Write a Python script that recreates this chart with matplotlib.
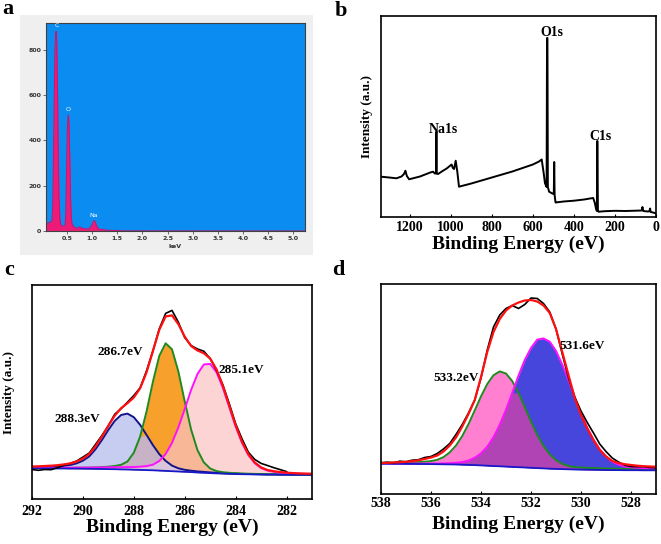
import numpy as np
import matplotlib
matplotlib.use('Agg')
import matplotlib.pyplot as plt
from matplotlib.patches import Rectangle

plt.rcParams['font.family'] = ['Liberation Serif', 'DejaVu Serif']

# ---------------- Panel a : EDS spectrum ----------------
eds_kev = [0.08, 0.12, 0.16, 0.20, 0.215, 0.23, 0.245, 0.26, 0.275, 0.285, 0.295, 0.31,
           0.325, 0.34, 0.36, 0.38, 0.42, 0.46, 0.475, 0.49, 0.505, 0.52, 0.53, 0.54,
           0.555, 0.57, 0.585, 0.60, 0.65, 0.70, 0.75, 0.80, 0.85, 0.90, 0.95, 0.99,
           1.02, 1.04, 1.06, 1.09, 1.12, 1.20, 1.30, 1.40, 1.50, 1.55, 1.70, 5.23]
eds_counts = [30, 35, 38, 45, 100, 300, 560, 800, 870, 881, 850, 650,
              380, 150, 50, 25, 22, 25, 70, 250, 430, 505, 512, 470,
              330, 150, 60, 30, 15, 12, 18, 12, 10, 9, 12, 25,
              40, 47, 40, 22, 10, 6, 4, 2, 3, 1, 0.5, 0]
eds_labels = ['C', 'O', 'Na']
eds_label_kev = [0.29, 0.53, 1.04]
eds_label_cnt = [905, 535, 68]
eds_xticks = [0.5, 1.0, 1.5, 2.0, 2.5, 3.0, 3.5, 4.0, 4.5, 5.0]
eds_yticks = [0, 200, 400, 600, 800]

# ---------------- Panel b : XPS survey ----------------
survey_be = [1340, 1300, 1265, 1240, 1228, 1221, 1214, 1203, 1150, 1100, 1086, 1078, 1072,
             1070, 1068, 1062, 1040, 1020, 1005, 996, 990, 984, 976, 968, 960, 900, 800,
             700, 600, 570, 557, 548, 541, 533, 531, 529, 527, 521, 505, 498, 496, 494,
             490, 489, 450, 400, 350, 322, 306, 298, 292, 288, 286.5, 285.5, 283, 280,
             250, 200, 150, 100, 70, 66, 62, 40, 32, 29, 26, 15, 5, 1]
survey_int = [40.3, 39.5, 38.7, 40.5, 43, 46.3, 41, 37.7, 40.5, 44.5, 45.3, 43.5, 43.5,
              85.3, 43.5, 43, 46, 48.5, 51, 52.5, 49, 48, 56.3, 45, 30.3, 33.5, 39.5,
              45.5, 52.5, 55.5, 57.5, 45, 33.7, 30, 179, 179, 30, 25.3, 23.5, 23, 55, 22,
              15, 14.5, 15.5, 16.3, 17.5, 18.5, 19, 14, 8, 6, 76, 76, 6, 5.3,
              5.8, 6.2, 6.0, 6.3, 6.5, 10.0, 6.0, 5.5, 5.8, 8.5, 5.0, 4.5, 4.0, 3.5]
survey_labels = ['Na1s', 'O1s', 'C1s']
survey_label_be = [1037, 509, 270]
survey_label_int = [87.7, 184.7, 80.3]
survey_xticks = [1200, 1000, 800, 600, 400, 200, 0]

# ---------------- Panel c : C 1s ----------------
c_be = np.linspace(292, 281, 45)
c_base = [30.7, 30.7, 30.6, 30.6, 30.5, 30.5, 30.4, 30.4, 30.3, 30.2, 30.1, 30.0, 29.9, 29.8, 29.6,
          29.5, 29.3, 29.1, 28.9, 28.7, 28.4, 28.1, 27.8, 27.5, 27.2, 26.9, 26.5, 26.2, 25.9, 25.6,
          25.4, 25.2, 25.0, 24.8, 24.7, 24.6, 24.5, 24.4, 24.4, 24.3, 24.3, 24.2, 24.2, 24.2, 24.2]
c_288 = [1.0, 1.2, 1.4, 1.7, 2.1, 2.7, 3.6, 5.2, 8.0, 12.4, 19.8, 29.1, 39.2, 48.3, 54.4,
         55.9, 52.5, 45.0, 35.2, 25.2, 16.5, 10.0, 5.6, 3.2, 2.0, 1.4, 1.1, 0.9, 0.7, 0.6,
         0.5, 0.4, 0.4, 0.3, 0.3, 0.3, 0.2, 0.2, 0.2, 0.2, 0.2, 0.1, 0.1, 0.1, 0.1]
c_286 = [0.3, 0.3, 0.4, 0.4, 0.5, 0.6, 0.7, 0.8, 1.0, 1.2, 1.5, 1.9, 2.4, 3.2, 4.6,
         8.0, 17.0, 33.5, 58.6, 88.5, 114.7, 127.6, 121.9, 100.0, 70.4, 42.6, 22.4, 10.4, 4.6, 2.3,
         1.4, 1.0, 0.8, 0.7, 0.6, 0.5, 0.5, 0.4, 0.4, 0.3, 0.3, 0.3, 0.2, 0.2, 0.2]
c_285 = [0.5, 0.5, 0.6, 0.6, 0.7, 0.8, 0.9, 1.0, 1.1, 1.2, 1.4, 1.6, 1.8, 2.0, 2.2,
         2.4, 2.7, 3.2, 4.0, 5.6, 9.6, 16.9, 28.3, 44.1, 62.8, 82.1, 98.5, 108.3, 109.2, 101.1,
         85.7, 66.7, 47.6, 31.4, 19.2, 11.2, 6.4, 4.0, 2.8, 2.1, 1.6, 1.3, 1.1, 0.9, 0.8]
c_raw_resid = [-3, -4, -3.5, -4, -2.5, -1, 0, 0.5, 1.5, 1, 2, 1, 0, 1.5, -0.5, 1, 2, 0.5, 1.5, 0,
               1, 3, 5, 2, -1, 0.5, 1.5, 2, 0, -1, 1, 2, 1.5, 3, 2, 3, 4, 4.5, 3.5, 2.5, 1]
c_labels = ['288.3eV', '286.7eV', '285.1eV']
c_label_be = [290.22, 288.55, 283.78]
c_label_int = [80.3, 147, 128.7]
c_xticks = [292, 290, 288, 286, 284, 282]

# ---------------- Panel d : O 1s ----------------
d_be = np.linspace(538, 527, 45)
d_base = [30.3, 30.3, 30.2, 30.2, 30.1, 30.1, 30.0, 30.0, 29.9, 29.8, 29.7, 29.6, 29.5, 29.3, 29.1,
          28.9, 28.6, 28.3, 28.0, 27.7, 27.4, 27.1, 26.8, 26.5, 26.2, 25.9, 25.6, 25.3, 25.1, 24.9,
          24.7, 24.5, 24.4, 24.3, 24.2, 24.1, 24.0, 23.9, 23.9, 23.8, 23.8, 23.8, 23.7, 23.7, 23.7]
d_533 = [1.0, 1.1, 1.2, 1.3, 1.4, 1.6, 1.9, 2.3, 3.0, 4.4, 7.2, 12.0, 19.0, 28.7, 40.8,
         54.7, 69.0, 81.7, 90.8, 94.9, 93.1, 85.8, 74.4, 60.5, 46.2, 33.2, 22.5, 14.4, 8.7, 5.2,
         3.3, 2.4, 2.0, 1.8, 1.7, 1.6, 1.5, 1.4, 1.4, 1.3, 1.3, 1.2, 1.2, 1.1, 1.1]
d_531 = [0.3, 0.3, 0.3, 0.4, 0.4, 0.4, 0.5, 0.5, 0.6, 0.7, 0.9, 1.2, 1.7, 2.6, 4.4,
         7.3, 12.1, 19.0, 28.8, 41.6, 56.9, 74.1, 91.6, 107.5, 119.8, 128.5, 130.0, 127.0, 118.0, 104.5,
         89.0, 72.0, 56.0, 42.0, 30.0, 20.5, 13.5, 8.5, 5.5, 3.8, 2.9, 2.4, 2.1, 1.9, 1.8]
d_envelope = [31.0, 31.2, 31.5, 31.8, 32.2, 32.8, 33.8, 35.0, 36.5, 38.5, 42.5, 48.5, 56.5, 67.5, 80.0,
              94.0, 117.0, 142.0, 162.0, 175.0, 183.5, 188.5, 191.5, 193.5, 194.0, 192.5, 188.5, 181.0,
              165.0, 142.0, 119.0, 96.0, 79.0, 65.5, 54.0, 44.0, 37.5, 33.0, 31.0, 29.8, 29.0, 28.3,
              27.8, 27.5, 27.3]
d_raw_resid = [0, 0.5, -0.5, 1, 0, 1, 0.5, 1.5, 1, 2, 2.5, 2, 3, 2, 1, 0, -1, 2, 5, 4, 2, 0, -6, -4,
               2, 3, 2, 1, 0, -2, -3, 1, 4, 6, 7, 6, 5, 3, 1, -1, -1.5, -1, -0.5, -1, -1]
d_labels = ['533.2eV', '531.6eV']
d_label_be = [534.98, 529.96]
d_label_int = [116, 148]
d_xticks = [538, 536, 534, 532, 530, 528]

# ================= figure =================
W, H = 661, 544
fig = plt.figure(figsize=(W / 100, H / 100), dpi=100)


def ax_at(x0, y0, x1, y1):
    return fig.add_axes([x0 / W, 1 - y1 / H, (x1 - x0) / W, (y1 - y0) / H])


def bold_ticks(ax, size):
    for t in ax.get_xticklabels() + ax.get_yticklabels():
        t.set_fontweight('bold')
        t.set_fontsize(size)


# ---- panel a ----
fig.patches.append(Rectangle((20 / W, 1 - 255 / H), 293 / W, 240 / H, transform=fig.transFigure,
                             facecolor='#efefef', edgecolor='none', zorder=-5))
axa = ax_at(46, 23, 305, 231)
axa.set_zorder(2)
axa.set_facecolor('#0a8cf0')
axa.fill_between(eds_kev, eds_counts, 0, color='#ee1a78', lw=0)
axa.plot(eds_kev, eds_counts, color='#d0106a', lw=0.7)
axa.set_xlim(0.083, 5.23)
axa.set_ylim(0, 918)
axa.set_xticks(eds_xticks)
axa.set_xticklabels([f'{v:.1f}' for v in eds_xticks])
axa.set_yticks(eds_yticks)
axa.tick_params(labelsize=4.5, colors='#333333', length=2, width=0.5, pad=1.5)
for lab in axa.get_xticklabels() + axa.get_yticklabels():
    lab.set_family('DejaVu Sans')
    lab.set_fontweight('bold')
for s in axa.spines.values():
    s.set_color('#404040')
    s.set_linewidth(0.8)
axa.set_xlabel('keV', fontsize=4.5, color='#333333', labelpad=2, family='DejaVu Sans', fontweight='bold')
for lab, x, y in zip(eds_labels, eds_label_kev, eds_label_cnt):
    axa.text(x, y, lab, color='white', fontsize=4.5, ha='center', va='center', family='DejaVu Sans')

# ---- panel b ----
axb = ax_at(381, 16, 656, 217)
axb.plot(survey_be, survey_int, color='black', lw=1.4)
axb.set_xlim(1340, 0)
axb.set_ylim(0, 201)
axb.set_xticks(survey_xticks)
axb.set_yticks([])
axb.tick_params(axis='x', direction='in', length=2, pad=3)
bold_ticks(axb, 10)
axb.set_xlabel('Binding Energy (eV)', fontsize=14, fontweight='bold', labelpad=1)
axb.set_ylabel('Intensity (a.u.)', fontsize=9.5, fontweight='bold', labelpad=6)
for lab, x, y in zip(survey_labels, survey_label_be, survey_label_int):
    axb.text(x, y, lab, fontsize=10, fontweight='bold', ha='center', va='center')
for s in axb.spines.values():
    s.set_linewidth(1.2)

# ---- panel c ----
axc = ax_at(32, 285, 312, 499)
cb = np.array(c_base)
c1 = np.array(c_288)
c2 = np.array(c_286)
c3 = np.array(c_285)
axc.fill_between(c_be, cb, cb + c1, color='#c6cdf0', lw=0)
axc.fill_between(c_be, cb, cb + c2, color='#f7a02c', lw=0)
axc.fill_between(c_be, cb, cb + c3, color='#fcd4d4', lw=0)
axc.fill_between(c_be, cb, cb + np.minimum(c1, c2), color='#c8b2c6', lw=0)
axc.fill_between(c_be, cb, cb + np.minimum(c2, c3), color='#f8b898', lw=0)
axc.fill_between(c_be, cb, cb + np.minimum(c1, c3), color='#d9c6dc', lw=0)
axc.plot(c_be, cb + c1, color='#141488', lw=1.4)
axc.plot(c_be, cb + c2, color='#1f8a1f', lw=1.4)
axc.plot(c_be, cb + c3, color='#ff10ff', lw=1.4)
axc.plot(c_be, cb, color='#1818c8', lw=1.3)
c_env = cb + c1 + c2 + c3
n = len(c_raw_resid)
axc.plot(c_be[:n], c_env[:n] + np.array(c_raw_resid), color='black', lw=1.2)
axc.plot(c_be, c_env, color='#ff1010', lw=1.6)
axc.set_xlim(292, 281)
axc.set_ylim(0, 214)
axc.set_xticks(c_xticks)
axc.set_yticks([])
axc.tick_params(axis='x', direction='in', length=2, pad=4)
bold_ticks(axc, 10)
axc.set_xlabel('Binding Energy (eV)', fontsize=14, fontweight='bold', labelpad=1)
axc.set_ylabel('Intensity (a.u.)', fontsize=9.5, fontweight='bold', labelpad=12)
for lab, x, y in zip(c_labels, c_label_be, c_label_int):
    axc.text(x, y, lab, fontsize=9.5, fontweight='bold', ha='center', va='center')
for s in axc.spines.values():
    s.set_linewidth(1.2)

# ---- panel d ----
axd = ax_at(381, 284, 656, 494)
db = np.array(d_base)
dA = np.array(d_533)
dB = np.array(d_531)
axd.fill_between(d_be, db, db + dA, color='#ff80d0', lw=0)
axd.fill_between(d_be, db, db + dB, color='#4646dc', lw=0)
axd.fill_between(d_be, db, db + np.minimum(dA, dB), color='#b044b4', lw=0)
axd.plot(d_be, db + dA, color='#1f8a1f', lw=1.4)
axd.plot(d_be, db + dB, color='#ff10ff', lw=1.4)
axd.plot(d_be, db, color='#1818c8', lw=1.3)
d_env = np.array(d_envelope)
axd.plot(d_be, d_env + np.array(d_raw_resid), color='black', lw=1.2)
axd.plot(d_be, d_env, color='#ff1010', lw=1.6)
axd.set_xlim(538, 527)
axd.set_ylim(0, 210)
axd.set_xticks(d_xticks)
axd.set_yticks([])
axd.tick_params(axis='x', direction='in', length=2, pad=2)
bold_ticks(axd, 10)
axd.set_xlabel('Binding Energy (eV)', fontsize=14, fontweight='bold', labelpad=4)
for lab, x, y in zip(d_labels, d_label_be, d_label_int):
    axd.text(x, y, lab, fontsize=9.5, fontweight='bold', ha='center', va='center')
for s in axd.spines.values():
    s.set_linewidth(1.2)

# ---- panel letters ----
for lab, x, y in [('a', 2, 13.5), ('b', 335, 16.5), ('c', 4, 275), ('d', 332, 275)]:
    fig.text(x / W, 1 - y / H, lab, fontsize=16, fontweight='bold', ha='left', va='baseline')

fig.savefig('out.png', dpi=100)
